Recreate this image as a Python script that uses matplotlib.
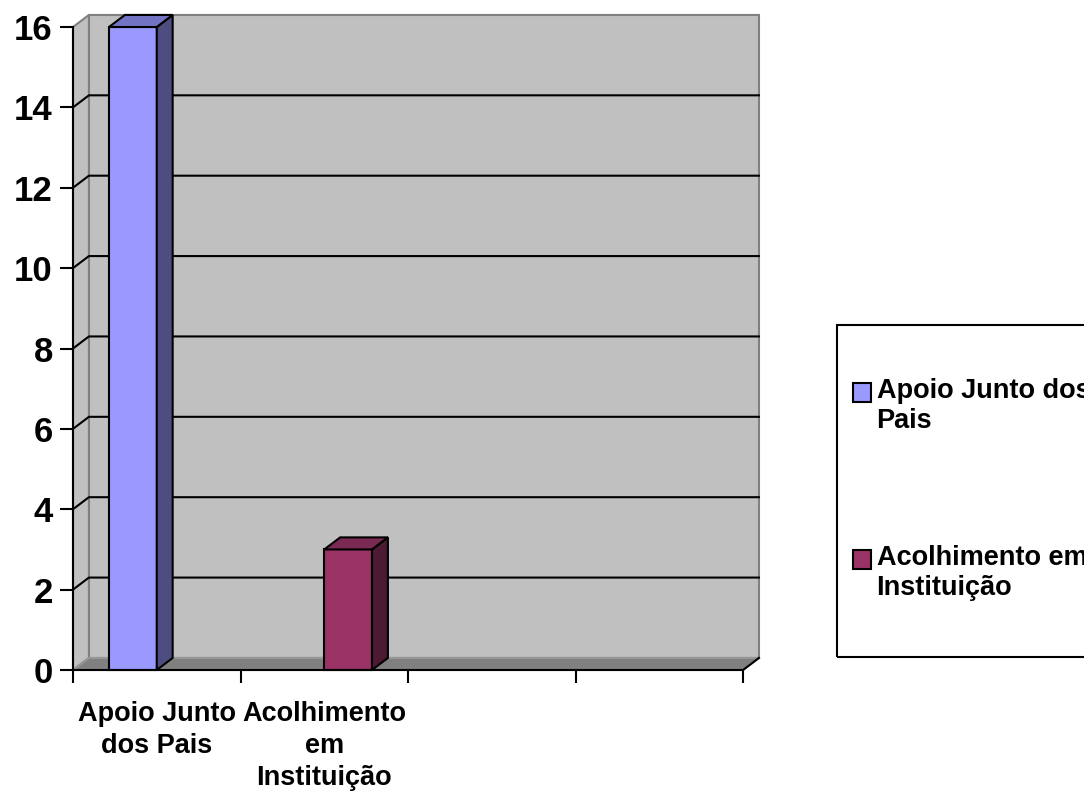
import matplotlib
matplotlib.use("Agg")
import matplotlib.pyplot as plt
from matplotlib.patches import Polygon, Rectangle, Patch
from matplotlib.legend_handler import HandlerPatch

# --- DATA ---
categories = ["Apoio Junto\ndos Pais", "Acolhimento\nem\nInstituição", "", ""]
series_names = ["Apoio Junto dos\nPais", "Acolhimento em\nInstituição"]
apoio = [16, 0, 0, 0]
acolhimento = [0, 3, 0, 0]
y_ticks = [0, 2, 4, 6, 8, 10, 12, 14, 16]

# --- STYLE ---
front_colors = ["#9999FF", "#993366"]
side_colors = ["#4D4D80", "#4D1A33"]
top_colors = ["#7373C4", "#7A2952"]
wall = "#C0C0C0"
floor = "#808080"

plt.rcParams['font.family'] = ['Liberation Sans', 'DejaVu Sans']
plt.rcParams['font.weight'] = 'bold'

fig = plt.figure(figsize=(10.84, 7.95), dpi=100)
ax = fig.add_axes([73 / 1084, 125 / 795, 670 / 1084, 643 / 795])
ncat = len(categories)
ymax = y_ticks[-1]
ax.set_xlim(0, ncat)
ax.set_ylim(0, ymax)
ax.set_facecolor("none")

dx, dy = 0.095, 0.30      # depth of the 3d box, in data units
gap, bw = 0.215, 0.285    # excel gap width 150%

# --- WALLS + FLOOR ---
ax.add_patch(Polygon([(dx, dy), (ncat + dx, dy), (ncat + dx, ymax + dy), (dx, ymax + dy)],
                     closed=True, fc=wall, ec=floor, lw=1.5, clip_on=False, zorder=0.5))
ax.add_patch(Polygon([(0, 0), (dx, dy), (dx, ymax + dy), (0, ymax)],
                     closed=True, fc=wall, ec=floor, lw=1.5, clip_on=False, zorder=0.6))
ax.add_patch(Polygon([(0, 0), (ncat, 0), (ncat + dx, dy), (dx, dy)],
                     closed=True, fc=floor, ec="#969696", lw=1.5, clip_on=False, zorder=0.7))
ax.plot([ncat, ncat + dx], [0, dy], color="black", lw=1.5, clip_on=False, zorder=0.8)

for v in y_ticks[1:-1]:
    ax.plot([0, dx, ncat + dx], [v, v + dy, v + dy], color="black", lw=1.5,
            clip_on=False, zorder=1)

# --- BARS ---
for j, vals in enumerate([apoio, acolhimento]):
    for i, v in enumerate(vals):
        if v == 0:
            continue
        x0 = i + gap + j * bw
        x1 = x0 + bw
        ax.add_patch(Rectangle((x0, 0), bw, v, fc=front_colors[j], ec="black",
                               lw=1.5, zorder=3, clip_on=False))
        ax.add_patch(Polygon([(x1, 0), (x1 + dx, dy), (x1 + dx, v + dy), (x1, v)],
                             closed=True, fc=side_colors[j], ec="black", lw=1.5,
                             zorder=3, clip_on=False))
        ax.add_patch(Polygon([(x0, v), (x0 + dx, v + dy), (x1 + dx, v + dy), (x1, v)],
                             closed=True, fc=top_colors[j], ec="black", lw=1.5,
                             zorder=3, clip_on=False))

# --- AXES ---
for s in ["top", "right"]:
    ax.spines[s].set_visible(False)
for s in ["left", "bottom"]:
    ax.spines[s].set_linewidth(1.5)
    ax.spines[s].set_zorder(4)

ax.set_yticks(y_ticks)
ax.set_yticklabels([str(t) for t in y_ticks], fontsize=25, fontweight="bold")
ax.tick_params(axis="y", direction="out", length=9.5, width=1.5, pad=5)

ax.set_xticks(range(ncat + 1))
ax.set_xticklabels([])
ax.tick_params(axis="x", which="major", direction="out", length=9.5, width=1.5)
ax.set_xticks([i + 0.5 for i in range(ncat)], minor=True)
xlabels = ax.set_xticklabels(categories, minor=True, fontsize=19.5, fontweight="bold")
for t in xlabels:
    t.set_linespacing(1.32)
ax.tick_params(axis="x", which="minor", length=0, pad=22)


# --- LEGEND ---
# key square sits on the first line of the wrapped label, like excel
def top_square(legend, orig_handle, xdescent, ydescent, width, height, fontsize):
    return Rectangle((-xdescent, -ydescent + 0.52 * fontsize), width, height)


handles = [Patch(fc=front_colors[j], ec="black", lw=1.5, label=series_names[j])
           for j in range(2)]
fig.legend(handles=handles, loc="upper left", bbox_to_anchor=(853 / 1084, 1 - 378 / 795),
           frameon=False, prop={"size": 19.5, "weight": "bold"},
           handlelength=0.67, handleheight=0.67, handletextpad=0.2,
           labelspacing=4.1, borderpad=0, borderaxespad=0,
           handler_map={Patch: HandlerPatch(patch_func=top_square)})
fig.add_artist(Rectangle((837 / 1084, (795 - 657) / 795), 300 / 1084, 332 / 795,
                         transform=fig.transFigure, fill=False, ec="black", lw=1.5))

fig.savefig("out.png", dpi=100)
